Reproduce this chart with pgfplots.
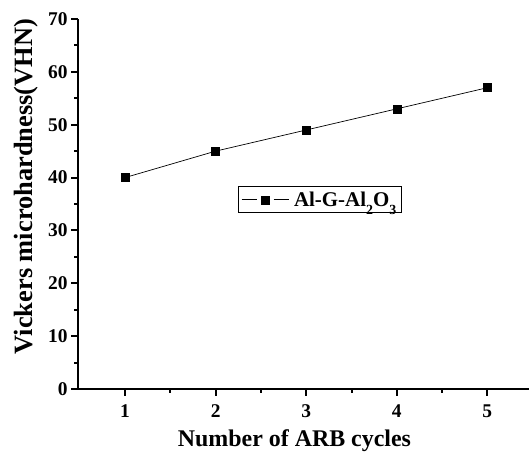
\documentclass[border=0pt]{standalone}
\usepackage{pgfplots}
\pgfplotsset{compat=1.18}
\usepackage{fontspec}
\setmainfont{Liberation Serif}
\newcommand{\lsub}[1]{\raisebox{-0.38em}{\fontsize{14}{14}\selectfont #1}}
\begin{document}
\begin{tikzpicture}[x=1bp,y=1bp]
\path[use as bounding box] (0,0) rectangle (529,453);
\begin{axis}[
  at={(78bp,64bp)},
  anchor=south west,
  scale only axis,
  width=451bp, height=370bp,
  xmin=0.48, xmax=5.46,
  ymin=0, ymax=70,
  axis lines=left,
  axis line style={line width=2.2bp, -},
  xtick={1,2,3,4,5},
  ytick={0,10,20,30,40,50,60,70},
  minor x tick num=1,
  minor y tick num=1,
  tick align=outside,
  major tick length=7bp,
  minor tick length=4bp,
  tick style={line width=2bp, black},
  /pgf/number format/assume math mode=true,
  ticklabel style={font=\fontsize{19.5}{21}\selectfont\bfseries},
  xticklabel shift=5bp,
  xlabel={Number of ARB cycles},
  ylabel={Vickers microhardness(VHN)},
  xlabel style={font=\fontsize{24}{25}\selectfont\bfseries, at={(axis description cs:0.48,0)}, anchor=base, yshift=-58bp},
  ylabel style={font=\fontsize{26.5}{28}\selectfont\bfseries, at={(axis description cs:0,0.547)}, anchor=base, yshift=45bp},
  legend style={at={(axis cs:3.15,35.8)}, anchor=center, draw=black, line width=0.6bp,
    font=\fontsize{21}{23}\selectfont\bfseries, inner xsep=3bp, inner ysep=3bp},
  legend image code/.code={%
    \draw[black, line width=0.7bp] (0bp,0bp) -- (15bp,0bp);
    \draw[black, line width=0.7bp] (32bp,0bp) -- (47bp,0bp);
    \draw[#1, draw=none] plot[mark=square*] coordinates {(23.5bp,0bp)};},
  legend cell align=left,
  clip=false,
]
\addplot[black, line width=0.7bp, mark=square*, mark size=4bp, mark options={line width=0.5bp, draw=black}]
  coordinates {(1,40) (2,45) (3,49) (4,53) (5,57)};
\addlegendentry{\hspace{3bp}Al-G-Al\lsub{2}O\lsub{3}}
\end{axis}
\end{tikzpicture}
\end{document}
